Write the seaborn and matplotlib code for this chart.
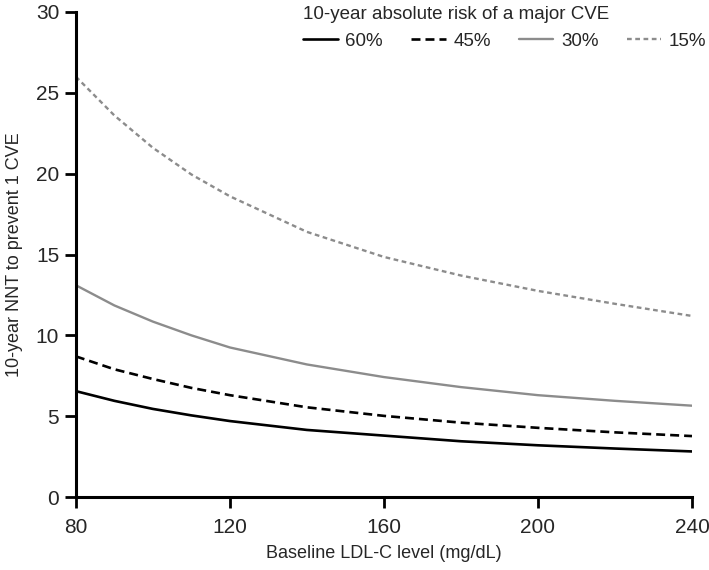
import pandas as pd
import seaborn as sns
import matplotlib
matplotlib.use("Agg")
import matplotlib.pyplot as plt

# baseline LDL-C (mg/dL) and 10-year NNT
ldl = [80, 90, 100, 110, 120, 140, 160, 180, 200, 220, 240]
nnt_60 = [6.55, 5.95, 5.45, 5.05, 4.7, 4.15, 3.8, 3.45, 3.2, 3.0, 2.82]
nnt_45 = [8.7, 7.9, 7.3, 6.75, 6.3, 5.55, 5.02, 4.6, 4.28, 4.0, 3.77]
nnt_30 = [13.1, 11.85, 10.85, 10.0, 9.25, 8.2, 7.42, 6.8, 6.3, 5.95, 5.65]
nnt_15 = [26.0, 23.6, 21.6, 19.95, 18.6, 16.4, 14.85, 13.7, 12.75, 11.95, 11.2]
risks = ["60%", "45%", "30%", "15%"]

rows = []
for r, vals in zip(risks, [nnt_60, nnt_45, nnt_30, nnt_15]):
    for x, y in zip(ldl, vals):
        rows.append({"ldl": x, "nnt": y, "risk": r})
df = pd.DataFrame(rows)

sns.set_style("ticks")
plt.rcParams["font.family"] = ["Liberation Sans", "DejaVu Sans"]

fig = plt.figure(figsize=(7.09, 5.70), dpi=100)
ax = fig.add_axes([0.107, 0.128, 0.869, 0.851])

palette = {"60%": "black", "45%": "black", "30%": "#8c8c8c", "15%": "#8c8c8c"}
dashes = {"60%": "", "45%": (3.4, 1.9), "30%": "", "15%": (2.0, 1.5)}
sns.lineplot(data=df, x="ldl", y="nnt", hue="risk", style="risk",
             hue_order=risks, style_order=risks, palette=palette,
             dashes=dashes, linewidth=1.9, legend=False, ax=ax)
for ln, r in zip(ax.lines, risks):
    if r in ("30%", "15%"):
        ln.set_linewidth(1.7)

ax.set_xlim(80, 240)
ax.set_ylim(0, 30)
ax.set_xticks([80, 120, 160, 200, 240])
ax.set_yticks([0, 5, 10, 15, 20, 25, 30])
ax.set_xlabel("Baseline LDL-C level (mg/dL)", fontsize=13, labelpad=6)
ax.set_ylabel("10-year NNT to prevent 1 CVE", fontsize=13, labelpad=9)
ax.tick_params(axis="both", labelsize=15, length=8, width=2.0, color="black")
ax.tick_params(axis="x", pad=7)
ax.tick_params(axis="y", pad=4)
for s in ["left", "bottom"]:
    ax.spines[s].set_linewidth(2.2)
    ax.spines[s].set_color("black")
sns.despine(ax=ax)

leg = ax.legend(ax.lines[:4], risks, title="10-year absolute risk of a major CVE",
                ncol=4, frameon=False, fontsize=13.5, title_fontsize=13.5,
                loc="upper left", bbox_to_anchor=(303 / 709, 1 - 6 / 570),
                bbox_transform=fig.transFigure, handlelength=1.85,
                handletextpad=0.4, columnspacing=1.5, borderpad=0,
                borderaxespad=0)
leg._legend_box.align = "left"

fig.savefig("out.png", dpi=100)
